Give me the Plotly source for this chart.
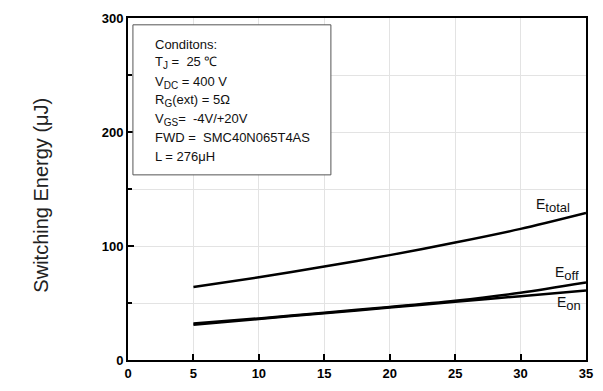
import plotly.graph_objects as go

# Data
current = [5, 10, 15, 20, 25, 30, 35]
e_total = [64, 72.5, 82, 92, 103, 115, 129]
e_off = [32, 36.5, 41.5, 46.5, 52, 59, 68]
e_on = [31, 36, 41, 46, 51, 56, 61]

x_ticks = [0, 5, 10, 15, 20, 25, 30, 35]
y_ticks = [0, 100, 200, 300]

def sub(s, size=10):
    return f"<sub><span style='font-size:{size}px'>{s}</span></sub>"

cond_lines = [
    "Conditons:",
    "T" + sub("J") + " =  25 ℃",
    "V" + sub("DC") + " = 400 V",
    "R" + sub("G") + "(ext) = 5Ω",
    "V" + sub("GS") + "=  -4V/+20V",
    "FWD =  SMC40N065T4AS",
    "L = 276μH",
]

L, R, T, B = 128, 10, 18, 22
W, H = 603, 391
pw, ph = W - L - R, H - T - B

def px(x):
    return (x - L) / pw

def py(y):
    return (H - B - y) / ph

fig = go.Figure()
for ys in (e_total, e_off, e_on):
    fig.add_trace(go.Scatter(x=current, y=ys, mode="lines",
                             line=dict(color="black", width=2.5, shape="spline", smoothing=0.8),
                             showlegend=False, hoverinfo="skip"))

font = "Liberation Sans, Arial, sans-serif"

fig.update_layout(
    width=W, height=H,
    margin=dict(l=L, r=R, t=T, b=B),
    paper_bgcolor="white", plot_bgcolor="white",
    font=dict(family=font, color="black"),
    xaxis=dict(range=[0, 35], tickvals=x_ticks, ticks="inside", ticklen=6, tickwidth=2,
               tickcolor="black", showline=True, linecolor="black", linewidth=2, mirror=True,
               showgrid=True, gridcolor="#e3e3e3", gridwidth=1, zeroline=False,
               tickfont=dict(size=13, family="Liberation Sans, Arial", color="black", weight="bold")),
    yaxis=dict(range=[0, 300], tickvals=y_ticks, ticks="inside", ticklen=6, tickwidth=2,
               tickcolor="black", showline=True, linecolor="black", linewidth=2, mirror=True,
               showgrid=True, gridcolor="#e3e3e3", gridwidth=1, zeroline=False,
               minor=dict(dtick=50, ticks="inside", ticklen=4, tickwidth=1.5, tickcolor="black",
                          showgrid=True, gridcolor="#e3e3e3", gridwidth=1),
               tickfont=dict(size=13, family="Liberation Sans, Arial", color="black", weight="bold")),
)

# conditions box
fig.add_shape(type="rect", xref="paper", yref="paper",
              x0=px(133), x1=px(334), y0=py(179), y1=py(25),
              line=dict(color="#555", width=1), fillcolor="white", layer="above")

line_y = [45, 64, 84, 103, 122, 141, 160]
for txt, yy in zip(cond_lines, line_y):
    fig.add_annotation(xref="paper", yref="paper", x=px(153), y=py(yy),
                       text=txt, showarrow=False, xanchor="left", yanchor="middle",
                       font=dict(size=13, family=font, color="#111"))

# curve labels
for txt, xx, yy in [("E" + sub("total", 13), 540, 210), ("E" + sub("off", 13), 560, 280),
                    ("E" + sub("on", 13), 562, 311)]:
    fig.add_annotation(xref="paper", yref="paper", x=px(xx), y=py(yy),
                       text=txt, showarrow=False, xanchor="left", yanchor="middle",
                       font=dict(size=14, family=font, color="#111"))

# y-axis title
fig.add_annotation(xref="paper", yref="paper", x=px(40), y=py(200),
                   text="Switching Energy (μJ)", showarrow=False, textangle=-90,
                   xanchor="center", yanchor="middle",
                   font=dict(size=20, family=font, color="#222"))

fig.write_html("out.html")
